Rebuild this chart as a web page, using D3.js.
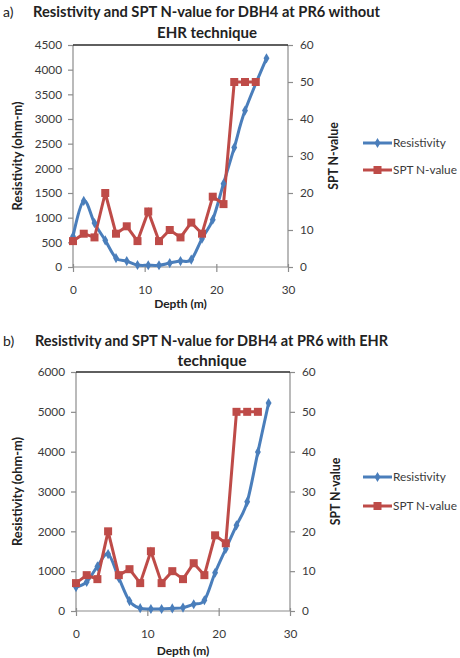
<!DOCTYPE html>
<html><head><meta charset="utf-8">
<script src="https://cdn.jsdelivr.net/npm/d3@7"></script>
<style>
html,body{margin:0;padding:0;background:#fff;}
svg{display:block;}
text{font-family:Lato,"Open Sans",sans-serif;}
</style></head>
<body>
<script>
// ---- data ----
const depthResTop = [0,1.5,3,4.5,6,7.5,9,10.5,12,13.5,15,16.5,18,19.5,21,22.5,24,27];
const resistivityTop = [620,1340,890,540,180,120,40,35,35,80,120,150,575,960,1690,2420,3170,4230];
const depthSpt = [0,1.5,3,4.5,6,7.5,9,10.5,12,13.5,15,16.5,18,19.5,21,22.5,24,25.5];
const sptTop = [7,9,8,20,9,11,7,15,7,10,8,12,9,19,17,50,50,50];

const depthResBot = [0,1.5,3,4.5,6,7.5,9,10.5,12,13.5,15,16.5,18,19.5,21,22.5,24,25.5,27];
const resistivityBot = [600,730,1120,1430,830,250,70,50,50,65,85,170,270,960,1560,2150,2740,3990,5220];
const sptBot = [7,9,8,20,9,10.5,7,15,7,10,8,12,9,19,17,50,50,50];

const depthTicks = [0,10,20,30];
const resTicksTop = [0,500,1000,1500,2000,2500,3000,3500,4000,4500];
const resTicksBot = [0,1000,2000,3000,4000,5000,6000];
const sptTicks = [0,10,20,30,40,50,60];
const legendLabels = ["Resistivity","SPT N-value"];

const BLUE = "#4A7EBB", RED = "#BE4B48", AXIS = "#8c8c8c", TXT = "#3a3a3a";

const svg = d3.select("body").append("svg").attr("width",460).attr("height",658);

function drawChart(o){
  const g = svg.append("g");
  const x = d3.scaleLinear().domain([0,30]).range([o.left,o.right]);
  const yL = d3.scaleLinear().domain([0,o.resMax]).range([o.bottom,o.top]);
  const yR = d3.scaleLinear().domain([0,60]).range([o.bottom,o.top]);

  // titles
  g.append("text").attr("x",3).attr("y",o.titleY).attr("font-size",14).attr("fill","#222").text(o.label);
  g.append("text").attr("x",o.t1x).attr("y",o.titleY).attr("font-size",15).attr("font-weight","bold")
    .attr("fill","#222").attr("textLength",o.t1w).attr("lengthAdjust","spacingAndGlyphs").text(o.title1);
  g.append("text").attr("x",o.t2cx).attr("y",o.title2Y).attr("font-size",15).attr("font-weight","bold")
    .attr("fill","#222").attr("text-anchor","middle").attr("textLength",o.t2w).attr("lengthAdjust","spacingAndGlyphs").text(o.title2);

  // axes
  const axL = d3.axisLeft(yL).tickValues(o.resTicks).tickSize(5).tickPadding(6).tickFormat(d3.format("d"));
  const axR = d3.axisRight(yR).tickValues(sptTicks).tickSize(5).tickPadding(7);
  const axB = d3.axisBottom(x).tickValues(depthTicks).tickSize(5).tickPadding(14);
  const gl = g.append("g").attr("transform",`translate(${o.left},0)`).call(axL);
  const gr = g.append("g").attr("transform",`translate(${o.right},0)`).call(axR);
  const gb = g.append("g").attr("transform",`translate(0,${o.bottom})`).call(axB);
  [gl,gr,gb].forEach(a=>{
    a.selectAll("path").attr("stroke",AXIS).attr("stroke-width",1.2);
    a.selectAll("line").attr("stroke",AXIS).attr("stroke-width",1.2);
    a.selectAll("text").attr("font-size",11.8).attr("fill",TXT);
  });
  gl.select("path").attr("d",`M0,${o.bottom}V${o.top}`);
  gr.select("path").attr("d",`M0,${o.bottom}V${o.top}`);
  gb.select("path").attr("d",`M${o.left},0H${o.right}`);
  gb.selectAll(".tick line").attr("y1",-3);
  // top border of plot area
  g.append("line").attr("x1",o.left).attr("x2",o.right).attr("y1",o.top).attr("y2",o.top)
    .attr("stroke","#2a2a2a").attr("stroke-width",1.5);

  // axis titles
  g.append("text").attr("transform",`translate(22,${(o.top+o.bottom)/2}) rotate(-90)`)
    .attr("text-anchor","middle").attr("font-size",12.8).attr("font-weight","bold").attr("fill","#222")
    .text("Resistivity (ohm-m)");
  g.append("text").attr("transform",`translate(${o.right+50},${(o.top+o.bottom)/2}) rotate(-90)`)
    .attr("text-anchor","middle").attr("font-size",12.3).attr("font-weight","bold").attr("fill","#222")
    .text("SPT N-value");
  g.append("text").attr("x",(o.left+o.right)/2).attr("y",o.depthY).attr("text-anchor","middle")
    .attr("font-size",12).attr("font-weight","bold").attr("fill","#222").text("Depth (m)");

  // series
  const resData = o.resDepth.map((d,i)=>[d,o.res[i]]);
  const sptData = depthSpt.map((d,i)=>[d,o.spt[i]]);
  const lineRes = d3.line().x(d=>x(d[0])).y(d=>yL(d[1])).curve(d3.curveCardinal.tension(0));
  const lineSpt = d3.line().x(d=>x(d[0])).y(d=>yR(d[1]));
  g.append("path").attr("d",lineRes(resData)).attr("fill","none").attr("stroke",BLUE).attr("stroke-width",3);
  g.append("path").attr("d",lineSpt(sptData)).attr("fill","none").attr("stroke",RED).attr("stroke-width",3);
  const diamond = d3.symbol().type(d3.symbolDiamond).size(30);
  g.selectAll(".mr").data(resData).join("path").attr("d",diamond)
    .attr("transform",d=>`translate(${x(d[0])},${yL(d[1])})`).attr("fill",BLUE);
  g.selectAll(".ms").data(sptData).join("rect")
    .attr("x",d=>x(d[0])-4).attr("y",d=>yR(d[1])-4).attr("width",8).attr("height",8).attr("fill",RED);

  // legend
  const lg = g.append("g");
  [0,1].forEach(i=>{
    const yy = o.legY[i];
    lg.append("line").attr("x1",363).attr("x2",392).attr("y1",yy).attr("y2",yy)
      .attr("stroke",i?RED:BLUE).attr("stroke-width",3);
    if(i===0) lg.append("path").attr("d",diamond).attr("transform",`translate(377.5,${yy})`).attr("fill",BLUE);
    else lg.append("rect").attr("x",373.5).attr("y",yy-4).attr("width",8).attr("height",8).attr("fill",RED);
    lg.append("text").attr("x",393).attr("y",yy+4).attr("font-size",11.8).attr("fill",TXT).text(legendLabels[i]);
  });
}

drawChart({label:"a)", title1:"Resistivity and SPT N-value for DBH4 at PR6 without", title2:"EHR technique",
  titleY:17, title2Y:38, t1x:33, t1w:347, t2cx:207, t2w:100,
  left:73, right:288, top:45, bottom:267, resMax:4500, resTicks:resTicksTop,
  resDepth:depthResTop, res:resistivityTop, spt:sptTop, depthY:308, legY:[143,170]});

drawChart({label:"b)", title1:"Resistivity and SPT N-value for DBH4 at PR6 with EHR", title2:"technique",
  titleY:346, title2Y:366, t1x:35, t1w:353, t2cx:212, t2w:69,
  left:76, right:290, top:372, bottom:611, resMax:6000, resTicks:resTicksBot,
  resDepth:depthResBot, res:resistivityBot, spt:sptBot, depthY:655, legY:[477,506]});
</script>
</body></html>
